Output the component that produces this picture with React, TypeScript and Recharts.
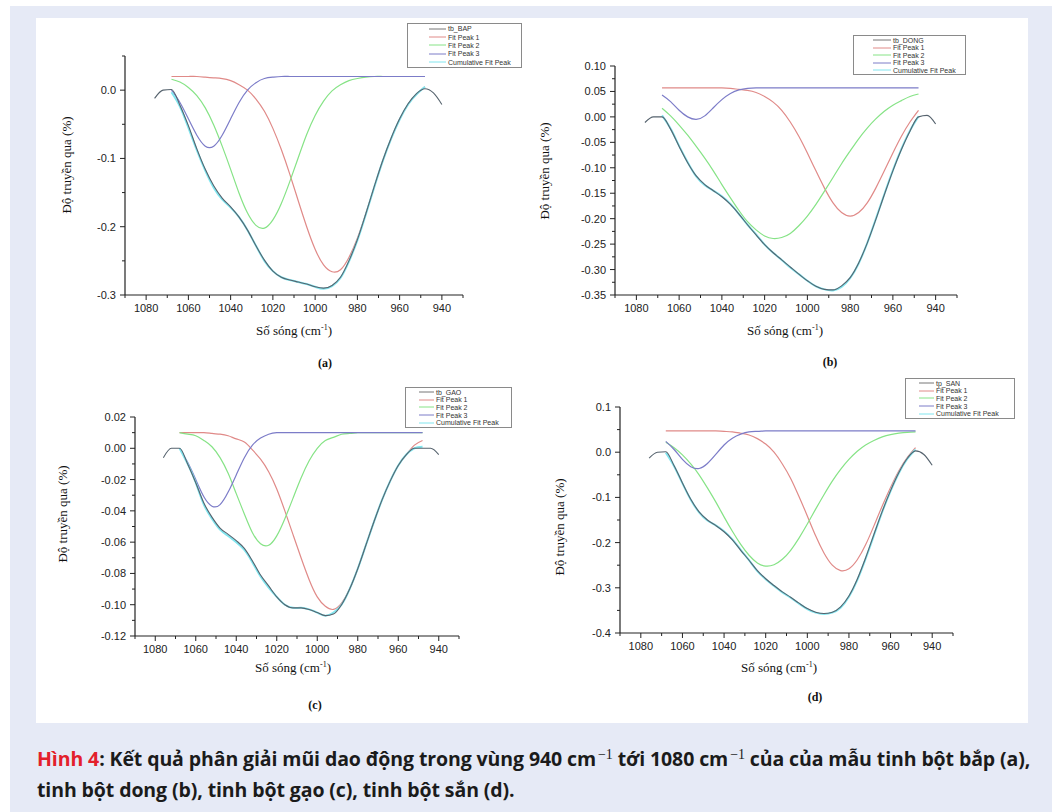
import React from 'react';
import { LineChart, Line, XAxis, YAxis } from 'recharts';

// wavenumber grid (cm-1), measured spectrum spans the full grid, fitted peaks 1068..948
const waves = [
  1076, 1072, 1068, 1064, 1060, 1056, 1052, 1048, 1044, 1040, 1036, 1032, 1028, 1024, 1020, 1016, 1012, 1008,
  1004, 1000, 996, 992, 988, 984, 980, 976, 972, 968, 964, 960, 956, 952, 948, 944, 940,
];
const fitStart = 2;

const xTicks = [1090, 1080, 1070, 1060, 1050, 1040, 1030, 1020, 1010, 1000, 990, 980, 970, 960, 950, 940, 930];
const xMajor = [1080, 1060, 1040, 1020, 1000, 980, 960, 940];

// (a) tinh bột bắp
const bapData = [-0.012, 0.0, 0.001, -0.022, -0.052, -0.086, -0.116, -0.14, -0.158, -0.171, -0.186, -0.205, -0.228, -0.249, -0.265, -0.274, -0.278, -0.281, -0.284, -0.288, -0.29, -0.286, -0.274, -0.25, -0.219, -0.181, -0.141, -0.103, -0.07, -0.042, -0.02, -0.005, 0.002, -0.004, -0.021];
const bapPeak1 = [0.02, 0.02, 0.02, 0.02, 0.019, 0.018, 0.017, 0.014, 0.008, 0.0, -0.013, -0.031, -0.056, -0.087, -0.123, -0.162, -0.2, -0.233, -0.256, -0.266, -0.263, -0.245, -0.217, -0.181, -0.142, -0.104, -0.071, -0.043, -0.021, -0.006, 0.005];
const bapPeak2 = [0.016, 0.012, 0.004, -0.008, -0.026, -0.051, -0.082, -0.116, -0.151, -0.18, -0.198, -0.202, -0.19, -0.166, -0.134, -0.099, -0.065, -0.037, -0.016, -0.001, 0.008, 0.014, 0.017, 0.019, 0.02, 0.02, 0.02, 0.02, 0.02, 0.02, 0.02];
const bapPeak3 = [0.0, -0.018, -0.042, -0.066, -0.082, -0.082, -0.066, -0.042, -0.018, 0.0, 0.011, 0.017, 0.019, 0.02, 0.02, 0.02, 0.02, 0.02, 0.02, 0.02, 0.02, 0.02, 0.02, 0.02, 0.02, 0.02, 0.02, 0.02, 0.02, 0.02, 0.02];
const bapCum = [-0.003, -0.024, -0.055, -0.088, -0.118, -0.143, -0.16, -0.172, -0.186, -0.205, -0.228, -0.25, -0.265, -0.274, -0.278, -0.281, -0.284, -0.288, -0.291, -0.287, -0.275, -0.251, -0.22, -0.182, -0.142, -0.104, -0.071, -0.043, -0.021, -0.006, 0.005];

// (b) tinh bột dong
const dongData = [-0.011, 0.0, 0.0, -0.024, -0.058, -0.09, -0.116, -0.133, -0.145, -0.157, -0.172, -0.191, -0.212, -0.232, -0.251, -0.267, -0.281, -0.295, -0.309, -0.322, -0.333, -0.339, -0.34, -0.332, -0.316, -0.287, -0.248, -0.202, -0.153, -0.106, -0.064, -0.028, 0.0, 0.003, -0.014];
const dongPeak1 = [0.057, 0.057, 0.057, 0.057, 0.057, 0.057, 0.057, 0.057, 0.056, 0.054, 0.052, 0.048, 0.04, 0.029, 0.013, -0.01, -0.038, -0.071, -0.106, -0.14, -0.169, -0.188, -0.195, -0.188, -0.169, -0.14, -0.106, -0.071, -0.038, -0.01, 0.013];
const dongPeak2 = [0.017, 0.002, -0.016, -0.036, -0.058, -0.081, -0.106, -0.133, -0.159, -0.184, -0.206, -0.222, -0.234, -0.239, -0.237, -0.229, -0.214, -0.195, -0.172, -0.146, -0.119, -0.092, -0.067, -0.043, -0.022, -0.004, 0.011, 0.023, 0.032, 0.04, 0.045];
const dongPeak3 = [0.043, 0.03, 0.013, 0.0, -0.005, 0.002, 0.018, 0.034, 0.046, 0.053, 0.056, 0.057, 0.057, 0.057, 0.057, 0.057, 0.057, 0.057, 0.057, 0.057, 0.057, 0.057, 0.057, 0.057, 0.057, 0.057, 0.057, 0.057, 0.057, 0.057, 0.057];
const dongCum = [0.003, -0.023, -0.057, -0.089, -0.117, -0.134, -0.145, -0.156, -0.171, -0.191, -0.212, -0.231, -0.251, -0.267, -0.281, -0.296, -0.309, -0.322, -0.333, -0.339, -0.341, -0.334, -0.317, -0.288, -0.248, -0.201, -0.152, -0.105, -0.063, -0.027, 0.001];

// (c) tinh bột gạo
const gaoData = [-0.006, 0.0, 0.0, -0.01, -0.022, -0.035, -0.044, -0.051, -0.055, -0.059, -0.064, -0.072, -0.081, -0.088, -0.095, -0.1, -0.102, -0.102, -0.103, -0.105, -0.107, -0.106, -0.1, -0.09, -0.077, -0.062, -0.047, -0.033, -0.021, -0.011, -0.004, 0.0, 0.0, 0.0, -0.004];
const gaoPeak1 = [0.01, 0.01, 0.01, 0.01, 0.0095, 0.009, 0.008, 0.006, 0.004, -0.001, -0.007, -0.015, -0.026, -0.04, -0.055, -0.07, -0.084, -0.095, -0.101, -0.103, -0.099, -0.09, -0.077, -0.062, -0.047, -0.033, -0.021, -0.011, -0.004, 0.002, 0.005];
const gaoPeak2 = [0.01, 0.009, 0.008, 0.005, 0.001, -0.006, -0.016, -0.029, -0.042, -0.054, -0.061, -0.062, -0.056, -0.045, -0.032, -0.019, -0.008, 0.0, 0.005, 0.007, 0.009, 0.0095, 0.01, 0.01, 0.01, 0.01, 0.01, 0.01, 0.01, 0.01, 0.01];
const gaoPeak3 = [0.0, -0.009, -0.02, -0.031, -0.037, -0.036, -0.028, -0.017, -0.006, 0.002, 0.0065, 0.009, 0.01, 0.01, 0.01, 0.01, 0.01, 0.01, 0.01, 0.01, 0.01, 0.01, 0.01, 0.01, 0.01, 0.01, 0.01, 0.01, 0.01, 0.01, 0.01];
const gaoCum = [0.0, -0.01, -0.022, -0.036, -0.045, -0.052, -0.056, -0.06, -0.065, -0.073, -0.082, -0.089, -0.095, -0.1, -0.102, -0.102, -0.103, -0.105, -0.107, -0.105, -0.1, -0.09, -0.077, -0.062, -0.047, -0.033, -0.021, -0.011, -0.004, 0.0, 0.001];

// (d) tinh bột sắn
const sanData = [-0.013, 0.0, 0.001, -0.03, -0.068, -0.104, -0.132, -0.15, -0.162, -0.176, -0.194, -0.217, -0.239, -0.262, -0.28, -0.295, -0.309, -0.321, -0.334, -0.346, -0.354, -0.357, -0.354, -0.342, -0.318, -0.281, -0.234, -0.182, -0.131, -0.085, -0.045, -0.014, 0.003, -0.005, -0.029];
const sanPeak1 = [0.047, 0.047, 0.047, 0.047, 0.047, 0.047, 0.047, 0.046, 0.045, 0.042, 0.038, 0.03, 0.018, 0.0, -0.026, -0.058, -0.098, -0.141, -0.185, -0.223, -0.25, -0.262, -0.258, -0.238, -0.205, -0.163, -0.119, -0.078, -0.041, -0.012, 0.01];
const sanPeak2 = [0.022, 0.01, -0.006, -0.026, -0.05, -0.079, -0.11, -0.143, -0.175, -0.204, -0.228, -0.245, -0.252, -0.249, -0.237, -0.217, -0.19, -0.159, -0.126, -0.094, -0.064, -0.038, -0.016, 0.002, 0.016, 0.026, 0.034, 0.039, 0.042, 0.044, 0.045];
const sanPeak3 = [0.024, 0.006, -0.016, -0.032, -0.036, -0.025, -0.005, 0.016, 0.031, 0.04, 0.045, 0.046, 0.047, 0.047, 0.047, 0.047, 0.047, 0.047, 0.047, 0.047, 0.047, 0.047, 0.047, 0.047, 0.047, 0.047, 0.047, 0.047, 0.047, 0.047, 0.047];
const sanCum = [-0.001, -0.031, -0.069, -0.105, -0.133, -0.151, -0.162, -0.175, -0.193, -0.216, -0.239, -0.263, -0.281, -0.296, -0.31, -0.322, -0.335, -0.347, -0.355, -0.358, -0.355, -0.344, -0.32, -0.283, -0.236, -0.184, -0.132, -0.086, -0.046, -0.015, 0.006];

const yTicksA = [-0.3, -0.25, -0.2, -0.15, -0.1, -0.05, 0, 0.05];
const yMajorA = [-0.3, -0.2, -0.1, 0];
const yTicksB = [-0.35, -0.325, -0.3, -0.275, -0.25, -0.225, -0.2, -0.175, -0.15, -0.125, -0.1, -0.075, -0.05, -0.025, 0, 0.025, 0.05, 0.075, 0.1];
const yMajorB = [-0.35, -0.3, -0.25, -0.2, -0.15, -0.1, -0.05, 0, 0.05, 0.1];
const yTicksC = [-0.12, -0.11, -0.1, -0.09, -0.08, -0.07, -0.06, -0.05, -0.04, -0.03, -0.02, -0.01, 0, 0.01, 0.02];
const yMajorC = [-0.12, -0.1, -0.08, -0.06, -0.04, -0.02, 0, 0.02];
const yTicksD = [-0.4, -0.35, -0.3, -0.25, -0.2, -0.15, -0.1, -0.05, 0, 0.05, 0.1];
const yMajorD = [-0.4, -0.3, -0.2, -0.1, 0, 0.1];

const COLORS = {
  tb: '#56636e',
  p1: '#e08a88',
  p2: '#86e386',
  p3: '#7c7cc8',
  cum: '#82e6ef',
};

const buildRows = (tb: number[], p1: number[], p2: number[], p3: number[], cum: number[]) =>
  waves.map((w, i) => {
    const j = i - fitStart;
    const fit = j >= 0 && j < p1.length;
    return {
      w,
      tb: tb[i],
      p1: fit ? p1[j] : null,
      p2: fit ? p2[j] : null,
      p3: fit ? p3[j] : null,
      cum: fit ? cum[j] : null,
    };
  });

const near = (list: number[], v: number) => list.some((m) => Math.abs(m - v) < 1e-9);

const makeXTick = () => (props: any) => {
  const { x, y, payload } = props;
  const major = near(xMajor, payload.value);
  return (
    <g>
      <line x1={x} x2={x} y1={y} y2={y + (major ? 5 : 3)} stroke="#222" strokeWidth={1} />
      {major && (
        <text x={x} y={y + 17} textAnchor="middle" fontSize={11} fill="#222" fontFamily="'Liberation Sans', Arial, sans-serif">
          {payload.value}
        </text>
      )}
    </g>
  );
};

const makeYTick = (major: number[], digits: number) => (props: any) => {
  const { x, y, payload } = props;
  const isMajor = near(major, payload.value);
  return (
    <g>
      <line x1={x} x2={x - (isMajor ? 5 : 3)} y1={y} y2={y} stroke="#222" strokeWidth={1} />
      {isMajor && (
        <text x={x - 9} y={y + 4} textAnchor="end" fontSize={11} fill="#222" fontFamily="'Liberation Sans', Arial, sans-serif">
          {payload.value.toFixed(digits)}
        </text>
      )}
    </g>
  );
};

const legendItems = [
  { key: 'tb', color: '#777' },
  { key: 'p1', color: COLORS.p1, label: 'Fit Peak 1' },
  { key: 'p2', color: COLORS.p2, label: 'Fit Peak 2' },
  { key: 'p3', color: COLORS.p3, label: 'Fit Peak 3' },
  { key: 'cum', color: COLORS.cum, label: 'Cumulative Fit Peak' },
];

const LegendBox = ({ box, name }: { box: { x: number; y: number; w: number; h: number; pad: number; len: number }; name: string }) => (
  <div
    style={{
      position: 'absolute',
      left: box.x,
      top: box.y,
      width: box.w,
      height: box.h,
      border: '1px solid #8a8a8a',
      background: '#fff',
      boxSizing: 'border-box',
      display: 'flex',
      flexDirection: 'column',
      justifyContent: 'space-evenly',
      paddingLeft: box.pad,
    }}
  >
    {legendItems.map((it) => (
      <div key={it.key} style={{ display: 'flex', alignItems: 'center', height: 7 }}>
        <svg width={box.len} height={4} style={{ display: 'block' }}>
          <line x1={0} x2={box.len} y1={2} y2={2} stroke={it.color} strokeWidth={1} />
        </svg>
        <span style={{ fontSize: 7, lineHeight: '7px', marginLeft: 2, color: '#333', fontFamily: "'Liberation Sans', Arial, sans-serif", whiteSpace: 'nowrap' }}>
          {it.label || name}
        </span>
      </div>
    ))}
  </div>
);

type PanelProps = {
  plot: { l: number; r: number; t: number; b: number };
  rows: any[];
  yDomain: [number, number];
  yTicks: number[];
  yMajor: number[];
  digits: number;
  legend: { x: number; y: number; w: number; h: number; pad: number; len: number };
  name: string;
  yTitle: [number, number];
  xTitle: [number, number];
  letter: string;
  letterPos: [number, number];
};

const serif = "'Liberation Serif', 'Times New Roman', serif";

const Panel = (p: PanelProps) => {
  const yw = 60;
  const mt = 6;
  const xh = 30;
  const mr = 10;
  const width = p.plot.r - p.plot.l + yw + mr;
  const height = p.plot.b - p.plot.t + mt + xh;
  return (
    <>
      <div style={{ position: 'absolute', left: p.plot.l - yw, top: p.plot.t - mt }}>
        <LineChart width={width} height={height} data={p.rows} margin={{ top: mt, right: mr, bottom: 0, left: 0 }}>
          <XAxis
            dataKey="w"
            type="number"
            domain={[930, 1090]}
            reversed
            ticks={xTicks}
            interval={0}
            allowDataOverflow
            height={xh}
            tickSize={0}
            tickMargin={0}
            tickLine={false}
            axisLine={{ stroke: '#222', strokeWidth: 1.2 }}
            tick={makeXTick()}
          />
          <YAxis
            type="number"
            domain={p.yDomain}
            ticks={p.yTicks}
            interval={0}
            allowDataOverflow
            width={yw}
            tickSize={0}
            tickMargin={0}
            tickLine={false}
            axisLine={{ stroke: '#222', strokeWidth: 1.2 }}
            tick={makeYTick(p.yMajor, p.digits)}
          />
          <Line type="natural" dataKey="p1" stroke={COLORS.p1} strokeWidth={1.2} dot={false} isAnimationActive={false} />
          <Line type="natural" dataKey="p2" stroke={COLORS.p2} strokeWidth={1.2} dot={false} isAnimationActive={false} />
          <Line type="natural" dataKey="p3" stroke={COLORS.p3} strokeWidth={1.2} dot={false} isAnimationActive={false} />
          <Line type="natural" dataKey="cum" stroke={COLORS.cum} strokeWidth={2} dot={false} isAnimationActive={false} />
          <Line type="monotone" dataKey="tb" stroke={COLORS.tb} strokeWidth={1.1} dot={false} isAnimationActive={false} />
        </LineChart>
      </div>
      <LegendBox box={p.legend} name={p.name} />
      <div
        style={{
          position: 'absolute',
          left: p.yTitle[0] - 80,
          top: p.yTitle[1] - 8,
          width: 160,
          textAlign: 'center',
          fontFamily: serif,
          fontSize: 13,
          lineHeight: '16px',
          color: '#111',
          transform: 'rotate(-90deg)',
          whiteSpace: 'nowrap',
        }}
      >
        Độ truyền qua (%)
      </div>
      <div
        style={{
          position: 'absolute',
          left: p.xTitle[0] - 80,
          top: p.xTitle[1] - 9,
          width: 160,
          textAlign: 'center',
          fontFamily: serif,
          fontSize: 13,
          lineHeight: '18px',
          color: '#111',
          whiteSpace: 'nowrap',
        }}
      >
        Số sóng (cm<sup style={{ fontSize: 8, lineHeight: 0 }}>-1</sup>)
      </div>
      <div
        style={{
          position: 'absolute',
          left: p.letterPos[0] - 20,
          top: p.letterPos[1] - 8,
          width: 40,
          textAlign: 'center',
          fontFamily: serif,
          fontWeight: 'bold',
          fontSize: 12,
          lineHeight: '16px',
          color: '#111',
        }}
      >
        {p.letter}
      </div>
    </>
  );
};

const panels: PanelProps[] = [
  {
    plot: { l: 125, r: 463, t: 56, b: 295 },
    rows: buildRows(bapData, bapPeak1, bapPeak2, bapPeak3, bapCum),
    yDomain: [-0.3, 0.05],
    yTicks: yTicksA,
    yMajor: yMajorA,
    digits: 1,
    legend: { x: 407, y: 23, w: 115, h: 45, pad: 21, len: 17 },
    name: 'tb_BAP',
    yTitle: [67, 165],
    xTitle: [294, 331],
    letter: '(a)',
    letterPos: [325, 363],
  },
  {
    plot: { l: 615, r: 957, t: 66, b: 295 },
    rows: buildRows(dongData, dongPeak1, dongPeak2, dongPeak3, dongCum),
    yDomain: [-0.35, 0.1],
    yTicks: yTicksB,
    yMajor: yMajorB,
    digits: 2,
    legend: { x: 853, y: 35, w: 113, h: 40, pad: 19, len: 18 },
    name: 'tb_DONG',
    yTitle: [545, 171],
    xTitle: [785, 331],
    letter: '(b)',
    letterPos: [830, 362],
  },
  {
    plot: { l: 135, r: 459, t: 417, b: 636 },
    rows: buildRows(gaoData, gaoPeak1, gaoPeak2, gaoPeak3, gaoCum),
    yDomain: [-0.12, 0.02],
    yTicks: yTicksC,
    yMajor: yMajorC,
    digits: 2,
    legend: { x: 405, y: 387, w: 107, h: 41, pad: 13, len: 15 },
    name: 'tb_GAO',
    yTitle: [63, 514],
    xTitle: [293, 668],
    letter: '(c)',
    letterPos: [315, 705],
  },
  {
    plot: { l: 620, r: 953, t: 407, b: 633 },
    rows: buildRows(sanData, sanPeak1, sanPeak2, sanPeak3, sanCum),
    yDomain: [-0.4, 0.1],
    yTicks: yTicksD,
    yMajor: yMajorD,
    digits: 1,
    legend: { x: 905, y: 378, w: 110, h: 41, pad: 13, len: 15 },
    name: 'tp_SAN',
    yTitle: [560, 527],
    xTitle: [779, 668],
    letter: '(d)',
    letterPos: [815, 697],
  },
];

const captionFont = "'Open Sans', 'Liberation Sans', sans-serif";
const supStyle: React.CSSProperties = { fontFamily: serif, fontWeight: 'normal', fontSize: 14, verticalAlign: 'baseline', position: 'relative', top: -7, marginLeft: 2 };

export default function App() {
  return (
    <div style={{ position: 'absolute', left: 0, top: 0, width: 1058, height: 812, background: '#fff', overflow: 'hidden' }}>
      <div style={{ position: 'absolute', left: 10, top: 6, width: 1042, height: 806, background: '#e6eaf6' }} />
      <div style={{ position: 'absolute', left: 36, top: 18, width: 992, height: 705, background: '#fff' }} />
      {panels.map((p) => (
        <Panel key={p.letter} {...p} />
      ))}
      <div
        style={{
          position: 'absolute',
          left: 37,
          top: 745,
          fontFamily: captionFont,
          fontWeight: 'bold',
          fontSize: 19.5,
          letterSpacing: -0.1,
          lineHeight: '28px',
          color: '#1b1b1b',
          whiteSpace: 'nowrap',
        }}
      >
        <span style={{ color: '#e3202b' }}>Hình 4</span>: Kết quả phân giải mũi dao động trong vùng 940 cm<span style={supStyle}>−1</span> tới 1080 cm
        <span style={supStyle}>−1</span> của của mẫu tinh bột bắp (a),
        <br />
        tinh bột dong (b), tinh bột gạo (c), tinh bột sắn (d).
      </div>
    </div>
  );
}
